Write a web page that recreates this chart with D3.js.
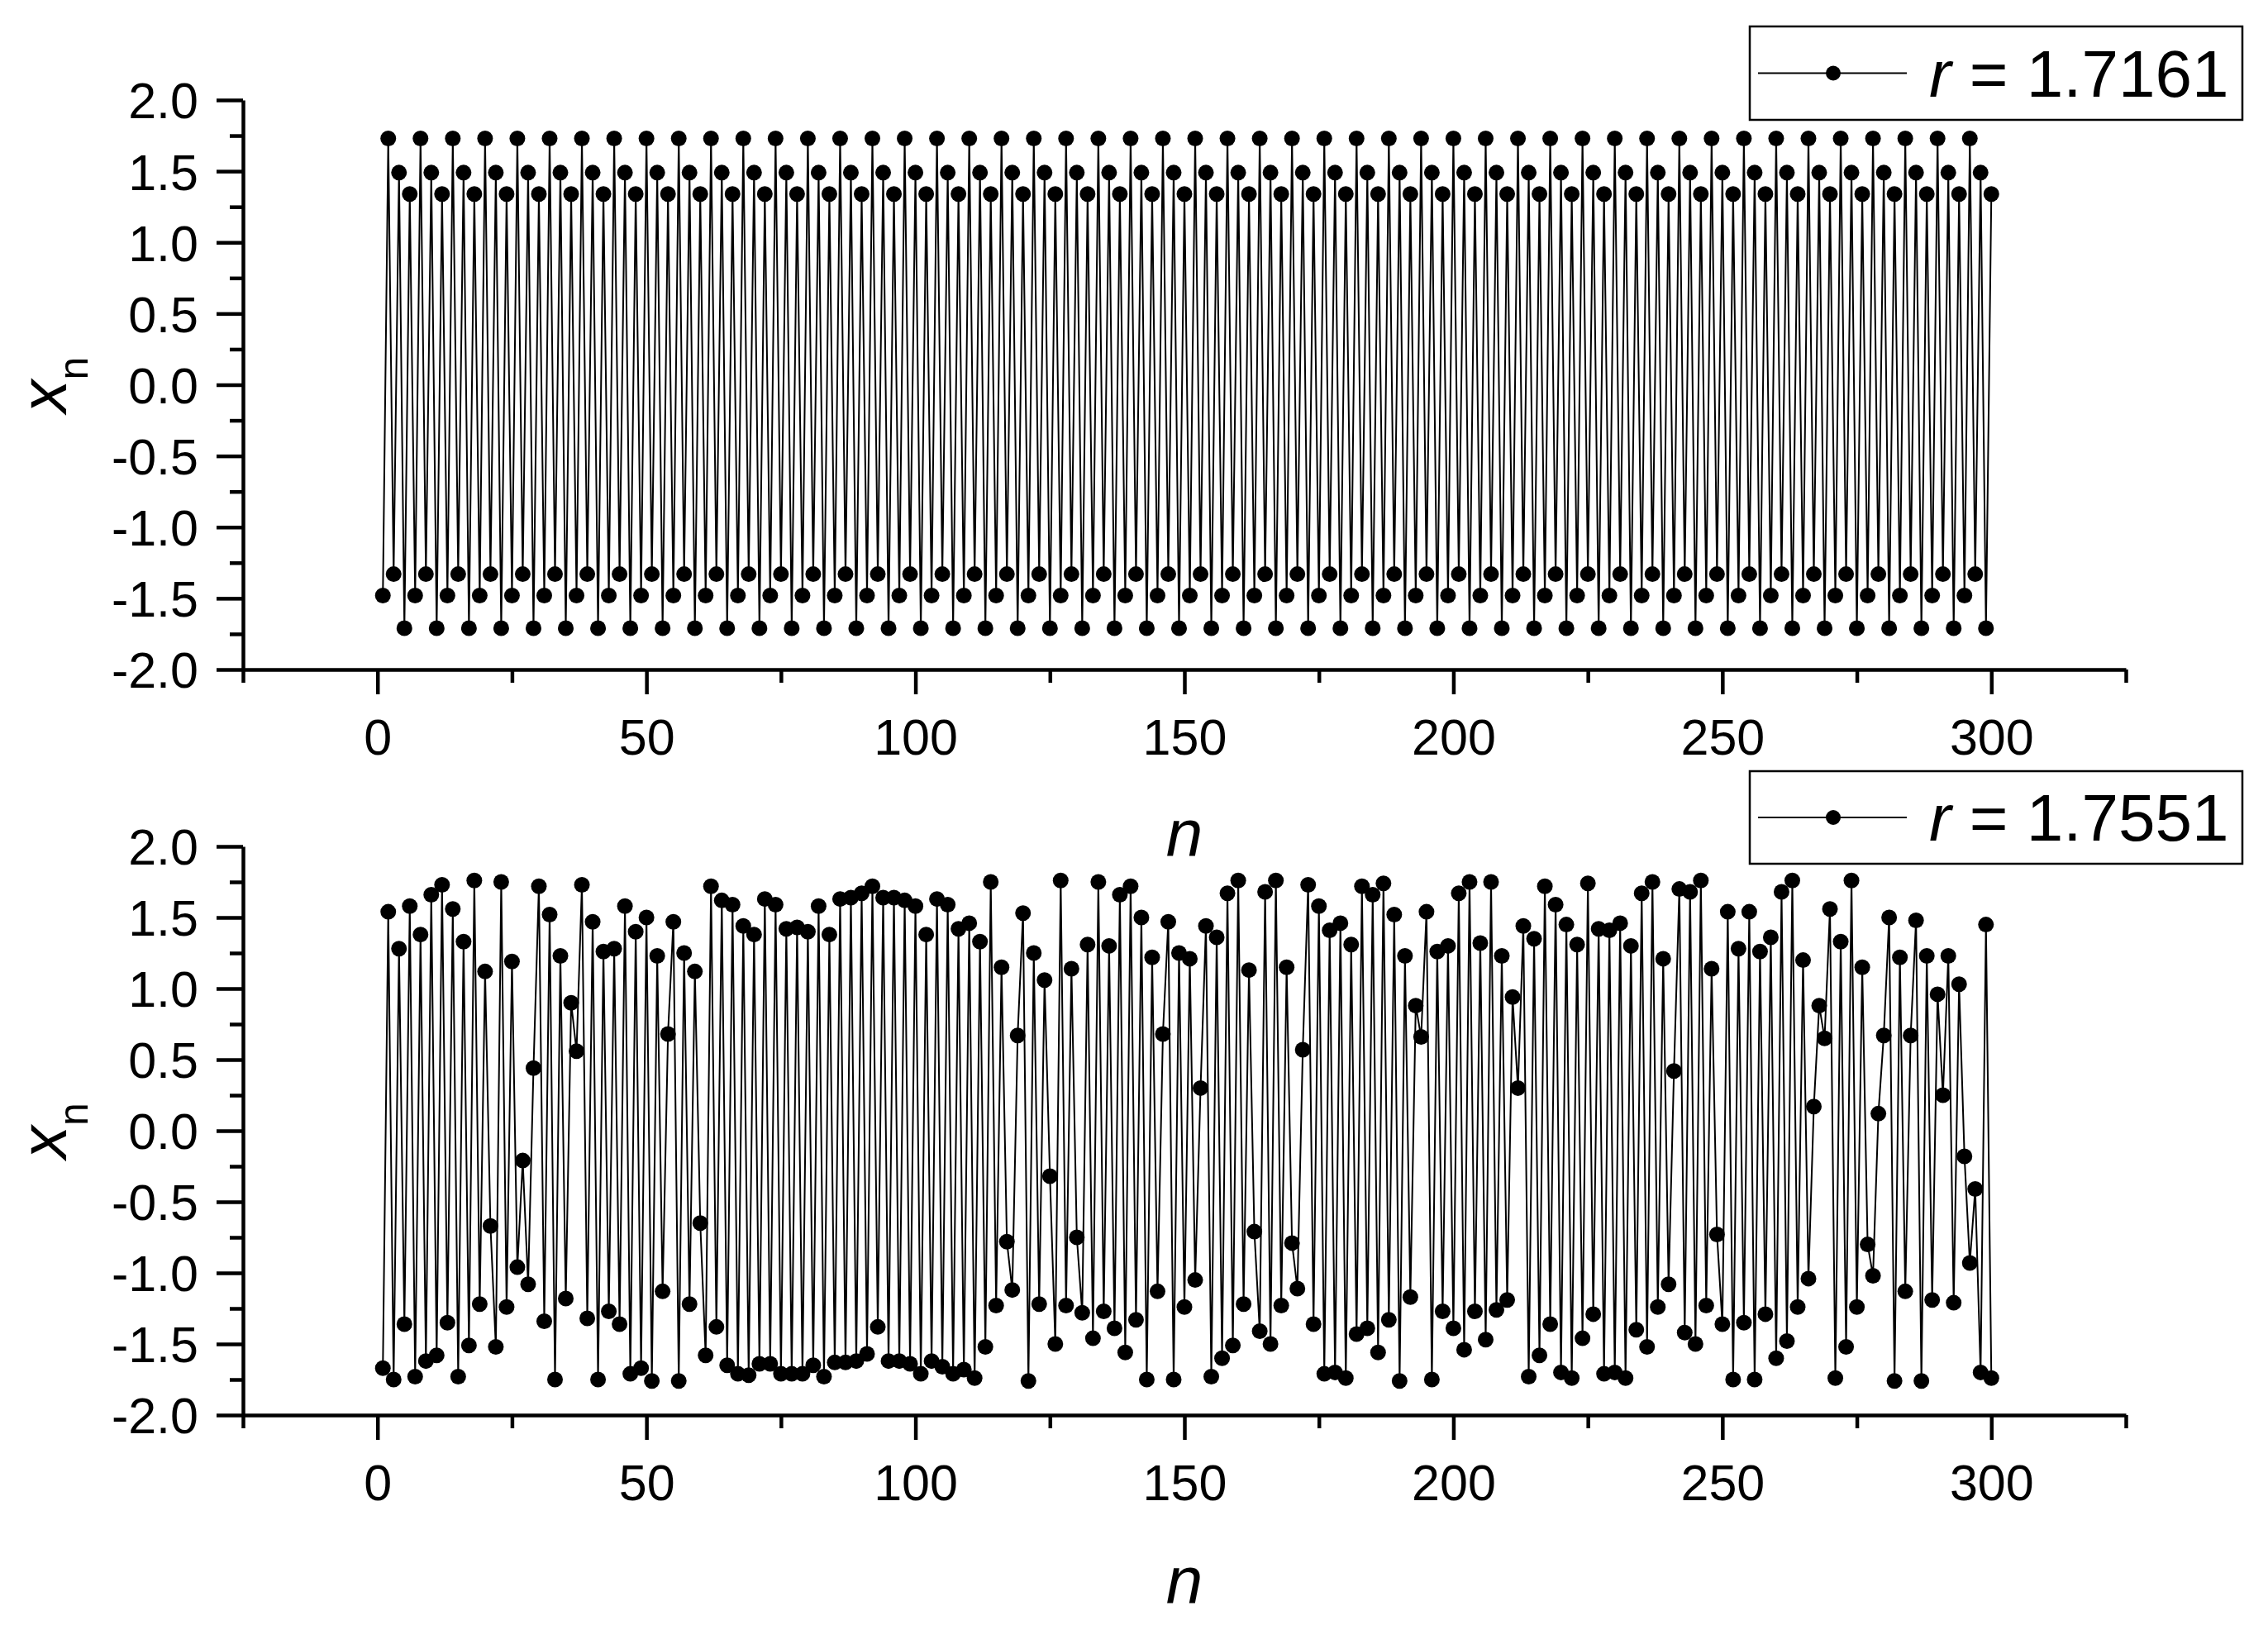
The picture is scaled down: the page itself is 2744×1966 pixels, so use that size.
<!DOCTYPE html>
<html><head><meta charset="utf-8">
<script src="https://cdn.jsdelivr.net/npm/d3@7"></script>
<style>
body{margin:0;background:#fff}
svg{display:block}
text{font-family:"Liberation Sans",Arial,sans-serif;fill:#000}
</style>
</head><body>
<svg id="chart" width="2744" height="1966"></svg>
<script>
// ---------- data ----------
const legendLabels = ["1.7161", "1.7551"];
const xMajorTicks = [0, 50, 100, 150, 200, 250, 300];
const xMinorTicks = [-25, 25, 75, 125, 175, 225, 275, 325];
const yMajorTicks = [2.0, 1.5, 1.0, 0.5, 0.0, -0.5, -1.0, -1.5, -2.0];
const yMinorTicks = [1.75, 1.25, 0.75, 0.25, -0.25, -0.75, -1.25, -1.75];

// x_n for r = 1.7161, n = 1..300
const seriesR17161 = [
-1.48,1.73,-1.33,1.49,-1.71,1.34,-1.48,1.73,-1.33,1.49,-1.71,1.34,
-1.48,1.73,-1.33,1.49,-1.71,1.34,-1.48,1.73,-1.33,1.49,-1.71,1.34,
-1.48,1.73,-1.33,1.49,-1.71,1.34,-1.48,1.73,-1.33,1.49,-1.71,1.34,
-1.48,1.73,-1.33,1.49,-1.71,1.34,-1.48,1.73,-1.33,1.49,-1.71,1.34,
-1.48,1.73,-1.33,1.49,-1.71,1.34,-1.48,1.73,-1.33,1.49,-1.71,1.34,
-1.48,1.73,-1.33,1.49,-1.71,1.34,-1.48,1.73,-1.33,1.49,-1.71,1.34,
-1.48,1.73,-1.33,1.49,-1.71,1.34,-1.48,1.73,-1.33,1.49,-1.71,1.34,
-1.48,1.73,-1.33,1.49,-1.71,1.34,-1.48,1.73,-1.33,1.49,-1.71,1.34,
-1.48,1.73,-1.33,1.49,-1.71,1.34,-1.48,1.73,-1.33,1.49,-1.71,1.34,
-1.48,1.73,-1.33,1.49,-1.71,1.34,-1.48,1.73,-1.33,1.49,-1.71,1.34,
-1.48,1.73,-1.33,1.49,-1.71,1.34,-1.48,1.73,-1.33,1.49,-1.71,1.34,
-1.48,1.73,-1.33,1.49,-1.71,1.34,-1.48,1.73,-1.33,1.49,-1.71,1.34,
-1.48,1.73,-1.33,1.49,-1.71,1.34,-1.48,1.73,-1.33,1.49,-1.71,1.34,
-1.48,1.73,-1.33,1.49,-1.71,1.34,-1.48,1.73,-1.33,1.49,-1.71,1.34,
-1.48,1.73,-1.33,1.49,-1.71,1.34,-1.48,1.73,-1.33,1.49,-1.71,1.34,
-1.48,1.73,-1.33,1.49,-1.71,1.34,-1.48,1.73,-1.33,1.49,-1.71,1.34,
-1.48,1.73,-1.33,1.49,-1.71,1.34,-1.48,1.73,-1.33,1.49,-1.71,1.34,
-1.48,1.73,-1.33,1.49,-1.71,1.34,-1.48,1.73,-1.33,1.49,-1.71,1.34,
-1.48,1.73,-1.33,1.49,-1.71,1.34,-1.48,1.73,-1.33,1.49,-1.71,1.34,
-1.48,1.73,-1.33,1.49,-1.71,1.34,-1.48,1.73,-1.33,1.49,-1.71,1.34,
-1.48,1.73,-1.33,1.49,-1.71,1.34,-1.48,1.73,-1.33,1.49,-1.71,1.34,
-1.48,1.73,-1.33,1.49,-1.71,1.34,-1.48,1.73,-1.33,1.49,-1.71,1.34,
-1.48,1.73,-1.33,1.49,-1.71,1.34,-1.48,1.73,-1.33,1.49,-1.71,1.34,
-1.48,1.73,-1.33,1.49,-1.71,1.34,-1.48,1.73,-1.33,1.49,-1.71,1.34,
-1.48,1.73,-1.33,1.49,-1.71,1.34,-1.48,1.73,-1.33,1.49,-1.71,1.34
];

// x_n for r = 1.7551, n = 1..300
const seriesR17551 = [
-1.67,1.54,-1.75,1.28,-1.36,1.58,-1.73,1.38,-1.62,1.66,
-1.58,1.73,-1.35,1.56,-1.73,1.33,-1.51,1.76,-1.22,1.12,
-0.67,-1.52,1.75,-1.24,1.19,-0.96,-0.21,-1.08,0.44,1.72,
-1.34,1.52,-1.75,1.23,-1.18,0.90,0.56,1.73,-1.32,1.47,
-1.75,1.26,-1.27,1.28,-1.36,1.58,-1.71,1.40,-1.67,1.50,
-1.76,1.23,-1.13,0.68,1.47,-1.76,1.25,-1.22,1.12,-0.65,
-1.58,1.72,-1.38,1.62,-1.65,1.59,-1.71,1.44,-1.72,1.38,
-1.64,1.63,-1.64,1.59,-1.71,1.42,-1.71,1.43,-1.71,1.40,
-1.65,1.58,-1.73,1.38,-1.63,1.63,-1.63,1.64,-1.62,1.67,
-1.57,1.72,-1.38,1.64,-1.62,1.64,-1.62,1.62,-1.64,1.58,
-1.71,1.38,-1.62,1.63,-1.66,1.59,-1.71,1.42,-1.68,1.46,
-1.74,1.33,-1.52,1.75,-1.23,1.15,-0.78,-1.12,0.67,1.53,
-1.76,1.25,-1.22,1.06,-0.32,-1.50,1.76,-1.23,1.14,-0.75,
-1.28,1.31,-1.46,1.75,-1.27,1.30,-1.39,1.66,-1.56,1.72,
-1.33,1.50,-1.75,1.22,-1.13,0.68,1.47,-1.75,1.25,-1.24,
1.21,-1.05,0.30,1.44,-1.73,1.36,-1.60,1.67,-1.51,1.76,
-1.22,1.13,-0.71,-1.41,1.68,-1.50,1.76,-1.23,1.15,-0.79,
-1.11,0.57,1.73,-1.36,1.58,-1.71,1.41,-1.70,1.46,-1.74,
1.31,-1.43,1.72,-1.39,1.66,-1.56,1.74,-1.33,1.52,-1.76,
1.23,-1.17,0.88,0.66,1.54,-1.75,1.26,-1.27,1.30,-1.39,
1.67,-1.54,1.75,-1.27,1.32,-1.47,1.75,-1.26,1.23,-1.19,
0.94,0.30,1.44,-1.73,1.35,-1.58,1.72,-1.36,1.59,-1.70,
1.45,-1.74,1.31,-1.46,1.74,-1.29,1.42,-1.71,1.41,-1.70,
1.46,-1.74,1.30,-1.40,1.67,-1.52,1.75,-1.24,1.21,-1.08,
0.42,1.70,-1.42,1.68,-1.50,1.76,-1.23,1.14,-0.73,-1.36,
1.54,-1.75,1.28,-1.35,1.54,-1.75,1.26,-1.29,1.36,-1.60,
1.68,-1.48,1.76,-1.24,1.20,-1.04,0.17,0.88,0.65,1.56,
-1.74,1.33,-1.52,1.76,-1.24,1.15,-0.80,-1.02,0.12,0.67,
1.50,-1.76,1.22,-1.13,0.67,1.48,-1.76,1.23,-1.19,0.96,
0.25,1.23,-1.21,1.03,-0.18,-0.93,-0.41,-1.70,1.45,-1.74
];

// ---------- layout ----------
const svg = d3.select("#chart");
const X0 = 294, X1 = 2572;
const panels = [
  {series: seriesR17161, label: legendLabels[0], top: 121, bottom: 810,
   legend: {x: 2117, y: 32, w: 596, h: 113}, nTitleY: 1036},
  {series: seriesR17551, label: legendLabels[1], top: 1024, bottom: 1712,
   legend: {x: 2117, y: 933, w: 596, h: 112}, nTitleY: 1940}
];

const x = d3.scaleLinear().domain([-25, 325]).range([X0, X1]);
const fmt = d => d.toFixed(1).replace("\u2212", "-");

panels.forEach(p => {
  const y = d3.scaleLinear().domain([-2, 2]).range([p.bottom, p.top]);
  const g = svg.append("g");

  // y axis: minor ticks
  g.append("g").attr("transform", `translate(${X0},0)`)
    .call(d3.axisLeft(y).tickValues(yMinorTicks).tickSize(16).tickSizeOuter(0).tickFormat(""))
    .call(a => a.select(".domain").remove())
    .call(a => a.selectAll("line").attr("stroke", "#000").attr("stroke-width", 4.5));
  // y axis: major ticks
  g.append("g").attr("transform", `translate(${X0},0)`)
    .call(d3.axisLeft(y).tickValues(yMajorTicks).tickSize(32).tickSizeOuter(0).tickPadding(22).tickFormat(fmt))
    .call(a => a.select(".domain").attr("stroke", "#000").attr("stroke-width", 4.5))
    .call(a => a.selectAll("line").attr("stroke", "#000").attr("stroke-width", 4.5))
    .call(a => a.selectAll("text").attr("font-size", 61).attr("font-family", "Liberation Sans, Arial, sans-serif").attr("fill", "#000").attr("dy", "0.36em"));

  // x axis: minor ticks
  g.append("g").attr("transform", `translate(0,${p.bottom})`)
    .call(d3.axisBottom(x).tickValues(xMinorTicks).tickSize(16).tickSizeOuter(0).tickFormat(""))
    .call(a => a.select(".domain").remove())
    .call(a => a.selectAll("line").attr("stroke", "#000").attr("stroke-width", 4.5));
  // x axis: major ticks
  g.append("g").attr("transform", `translate(0,${p.bottom})`)
    .call(d3.axisBottom(x).tickValues(xMajorTicks).tickSize(30).tickSizeOuter(0).tickPadding(30).tickFormat(d3.format("d")))
    .call(a => a.select(".domain").attr("stroke", "#000").attr("stroke-width", 4.5))
    .call(a => a.selectAll("line").attr("stroke", "#000").attr("stroke-width", 4.5))
    .call(a => a.selectAll("text").attr("font-size", 61).attr("font-family", "Liberation Sans, Arial, sans-serif").attr("fill", "#000"));

  // data line
  const line = d3.line().x((v, i) => x(i + 1)).y(v => y(v));
  g.append("path").datum(p.series).attr("d", line)
    .attr("fill", "none").attr("stroke", "#000").attr("stroke-width", 2).attr("stroke-linejoin", "round");
  g.append("g").selectAll("circle").data(p.series).join("circle")
    .attr("cx", (v, i) => x(i + 1)).attr("cy", v => y(v)).attr("r", 9.5).attr("fill", "#000");

  // axis titles
  g.append("text").attr("x", (X0 + X1) / 2).attr("y", p.nTitleY)
    .attr("text-anchor", "middle").attr("font-size", 80).attr("font-style", "italic").text("n");
  const yt = g.append("text")
    .attr("transform", `translate(80,${(p.top + p.bottom) / 2}) rotate(-90)`)
    .attr("text-anchor", "middle");
  yt.append("tspan").attr("font-size", 80).attr("font-style", "italic").text("x");
  yt.append("tspan").attr("font-size", 50).attr("dy", 26).text("n");

  // legend
  const L = p.legend;
  const lg = g.append("g");
  lg.append("rect").attr("x", L.x).attr("y", L.y).attr("width", L.w).attr("height", L.h)
    .attr("fill", "#fff").attr("stroke", "#000").attr("stroke-width", 2.5);
  const cy = L.y + L.h / 2;
  lg.append("line").attr("x1", L.x + 10).attr("x2", L.x + 190).attr("y1", cy).attr("y2", cy)
    .attr("stroke", "#000").attr("stroke-width", 2);
  lg.append("circle").attr("cx", L.x + 101).attr("cy", cy).attr("r", 9).attr("fill", "#000");
  const lt = lg.append("text").attr("x", L.x + 217).attr("y", cy + 28).attr("font-size", 80);
  lt.append("tspan").attr("font-style", "italic").text("r");
  lt.append("tspan").text(" = " + p.label);
});
</script>
</body></html>
